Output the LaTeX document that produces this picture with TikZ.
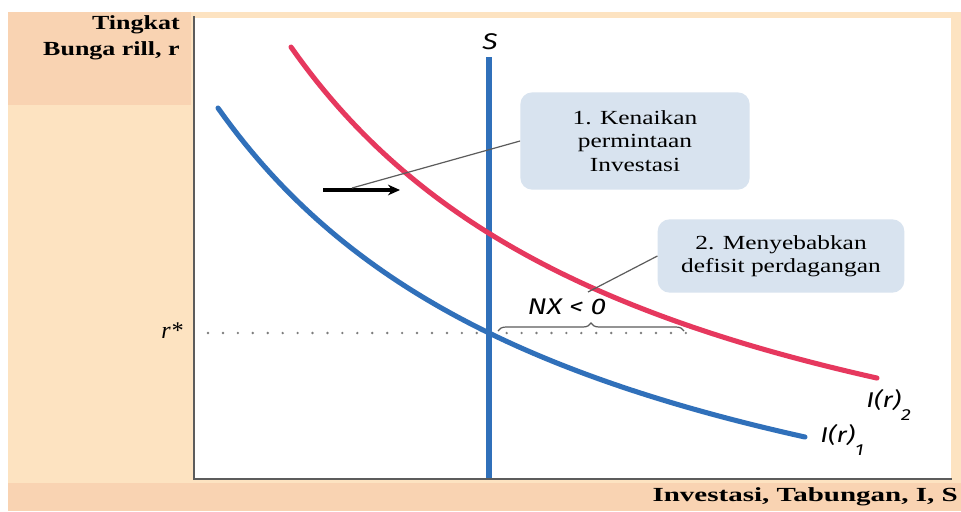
\documentclass[tikz,border=0pt]{standalone}
\usepackage{xcolor}
\usepackage{tikz}
\usepackage{fontspec}
\setmainfont{Liberation Serif}
\newfontfamily\axisfont[FakeStretch=1.3]{Liberation Serif}
\newfontfamily\xaxisfont[FakeStretch=1.45]{Liberation Serif}
\newfontfamily\boxfont[FakeStretch=1.27]{Liberation Serif}
\newfontfamily\graphfont[FakeStretch=1.25]{Fira Sans}
\definecolor{peachdark}{HTML}{f9d3b2}
\definecolor{peachlight}{HTML}{fde3c1}
\definecolor{boxblue}{HTML}{d8e3ef}
\definecolor{lineblue}{HTML}{3070ba}
\definecolor{curvered}{HTML}{e6385e}
\definecolor{axisgrey}{HTML}{5c5c5c}
\usetikzlibrary{positioning, calc, arrows.meta, decorations.pathreplacing}

\begin{document}
\begin{tikzpicture}[x=0.75pt, y=-0.75pt,
    callout/.style={fill=boxblue, rounded corners=9pt, align=center, font=\boxfont\fontsize{15}{17.5}\selectfont},
    axislabel/.style={inner sep=0pt, font=\axisfont\bfseries\fontsize{15}{20}\selectfont},
    graphlabel/.style={inner sep=0pt, font=\graphfont\itshape\fontsize{15}{18}\selectfont},
    curve/.style={line width=3.8pt, line cap=round},
    axis/.style={draw=axisgrey, line width=1.5pt},
    pointer/.style={draw=axisgrey, line width=0.9pt},
    arrow/.style={-{Stealth[length=9pt, width=8pt]}, line width=2.6pt, >=stealth}
]
    % Background panels
    \useasboundingbox (0,0) rectangle (961,511);
    \fill[peachlight] (8,12) rectangle (961,483);
    \fill[peachdark] (8,12) rectangle (191,105);
    \fill[peachdark] (8,483) rectangle (961,511);
    \fill[white] (194,18) rectangle (951,479);

    % Axes
    \coordinate (ytop) at (194,16);
    \coordinate (origin) at (194,479);
    \coordinate (xend) at (952,479);
    \draw[axis] (ytop) -- (origin) -- (xend);
    \node[axislabel, align=right, anchor=north east] (ylab) at (180,15) {Tingkat\\Bunga rill, r};
    \node[axislabel, font=\xaxisfont\bfseries\fontsize{15}{20}\selectfont, anchor=east] (xlab) at (958,497) {Investasi, Tabungan, I, S};

    % r* level
    \node[inner sep=0pt, anchor=east, font=\itshape\fontsize{18}{18}\selectfont] (rstar) at (183,331) {r*};
    \coordinate (rleft) at (208,333);
    \coordinate (rright) at (686,333);
    \draw[axisgrey!80, line width=2pt, line cap=round, dash pattern=on 0pt off 11.2pt] (rleft) -- (rright);

    % Saving
    \coordinate (stop) at (489,57);
    \coordinate (sbot) at (489,478);
    \draw[lineblue, line width=4.6pt] (stop) -- (sbot);
    \node[graphlabel, font=\graphfont\itshape\fontsize{17}{18}\selectfont] (slab) at (490,42) {S};

    % Investment curves
    \draw[curve, lineblue] plot[domain=218:805, samples=90] (\x, {653.2 - 2102.77/((\x+167.7)/100)});
    \draw[curve, curvered] plot[domain=291:877, samples=90] (\x, {595.7 - 2114.01/((\x+94.3)/100)});
    \node[graphlabel, font=\graphfont\itshape\fontsize{16}{18}\selectfont, anchor=west] (ir2) at (866,405) {I(r)\raisebox{-1.1ex}{\fontsize{12}{12}\selectfont 2}};
    \node[graphlabel, font=\graphfont\itshape\fontsize{16}{18}\selectfont, anchor=west] (ir1) at (820,440) {I(r)\raisebox{-1.1ex}{\fontsize{12}{12}\selectfont 1}};

    % Trade deficit
    \coordinate (nxa) at (498,331);
    \coordinate (nxb) at (684,331);
    \draw[axisgrey, line width=0.9pt, decorate, decoration={brace, amplitude=6pt}] (nxa) -- (nxb);
    \node[graphlabel, font=\graphfont\itshape\fontsize{17}{18}\selectfont] (nx) at (567,307) {NX < 0};

    % Shift arrow
    \coordinate (shiftstart) at (323,190);
    \coordinate (shiftend) at (400,190);
    \draw[arrow] (shiftstart) -- (shiftend);

    % Callout 1
    \node[callout, minimum width=172pt, minimum height=73pt] (note1) at (635,141) {
        1. Kenaikan\\permintaan\\Investasi
    };
    \coordinate (tail1) at (352,188);
    \draw[pointer] (note1.west) -- (tail1);

    % Callout 2
    \node[callout, minimum width=185pt, minimum height=55pt] (note2) at (781,256) {
        2. Menyebabkan\\defisit perdagangan
    };
    \coordinate (tail2) at (588,292);
    \draw[pointer] (note2.west) -- (tail2);
\end{tikzpicture}
\end{document}
